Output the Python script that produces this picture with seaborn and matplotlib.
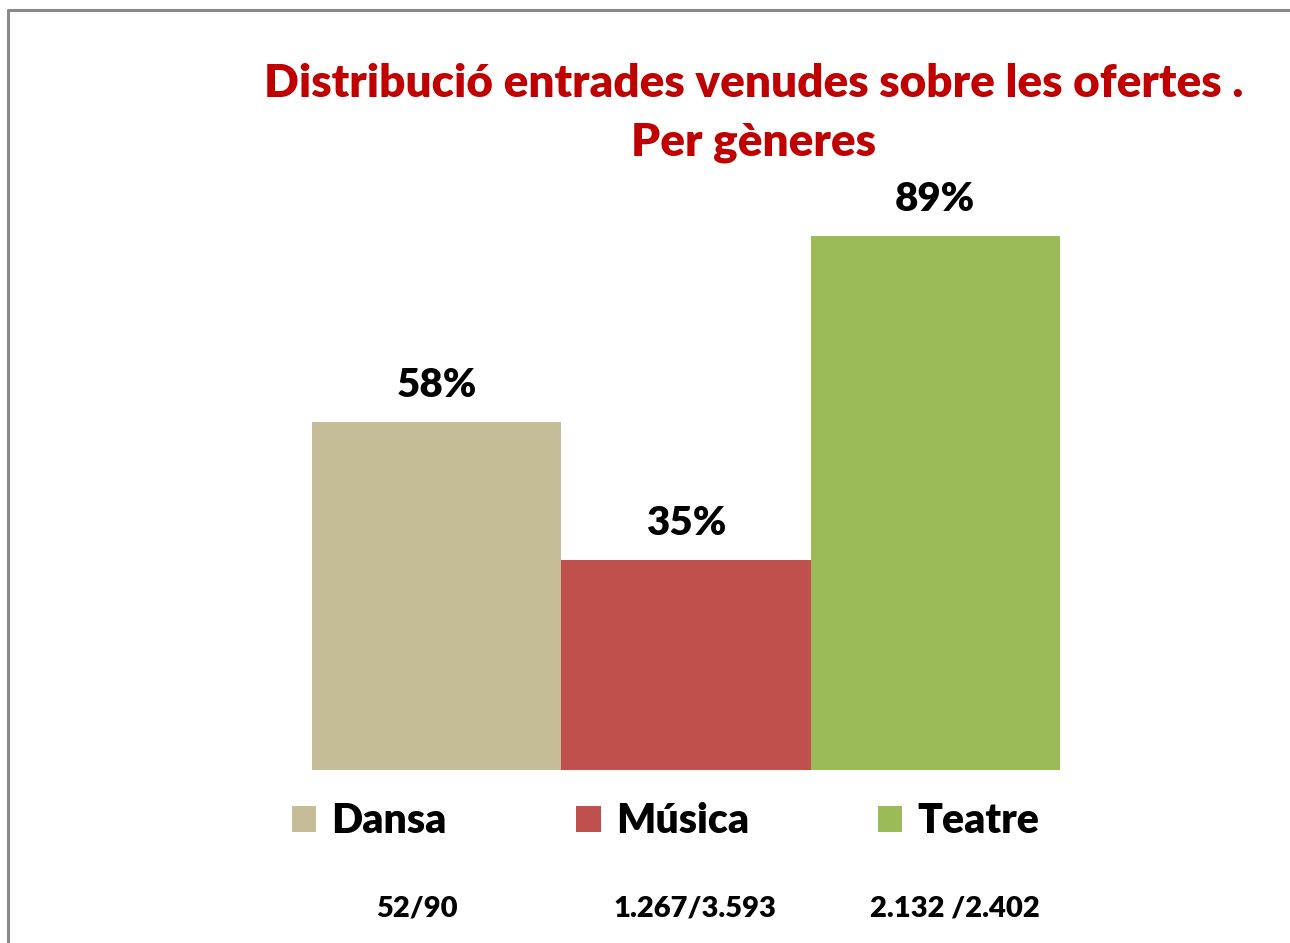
import matplotlib
matplotlib.use("Agg")
import matplotlib.pyplot as plt
from matplotlib.lines import Line2D
import seaborn as sns
import pandas as pd

# chart data
generes = ["Dansa", "Música", "Teatre"]
percentatges = [58, 35, 89]
entrades = ["52/90", "1.267/3.593", "2.132 /2.402"]
colors = ["#C4BD97", "#C0504D", "#9BBB59"]

sns.set_style("white")
plt.rcParams["font.family"] = ["Lato", "DejaVu Sans"]
plt.rcParams["text.color"] = "black"

df = pd.DataFrame({"genere": generes, "pct": percentatges})

fig = plt.figure(figsize=(12.9, 9.43), dpi=100)
ax = fig.add_axes([312 / 1290, 173 / 943, 748 / 1290, 600 / 943])

sns.barplot(data=df, x="genere", y="pct", hue="genere", palette=colors,
            width=1.0, dodge=False, legend=False, saturation=1,
            linewidth=0, ax=ax)

for cont in ax.containers:
    ax.bar_label(cont, fmt="%d%%", padding=13, fontsize=29, fontweight="heavy",
                 color="black")

ax.set_ylim(0, 100)
ax.set_xlim(-0.5, 2.5)
ax.set_xlabel("")
ax.set_ylabel("")
ax.set_xticks([])
ax.set_yticks([])
sns.despine(ax=ax, left=True, bottom=True)

# title
fig.text(0.584, 0.880, "Distribució entrades venudes sobre les ofertes .\nPer gèneres",
         ha="center", va="center", fontsize=33, fontweight="heavy",
         color="#C00000", linespacing=1.5)

# legend
handles = [plt.Rectangle((0, 0), 1, 1, color=c, lw=0) for c in colors]
fig.legend(handles, generes, ncol=3, loc="center", bbox_to_anchor=(0.516, 0.129),
           frameon=False, prop={"size": 29.5, "weight": "heavy"},
           handlelength=0.6, handleheight=0.6, handletextpad=0.37,
           columnspacing=3.15)

# sold / offered tickets
xs = [417 / 1290, 695 / 1290, 955 / 1290]
for x, t in zip(xs, entrades):
    fig.text(x, 0.037, t, ha="center", va="center", fontsize=21, fontweight="heavy",
             color="black")

# chart frame (left and top edges visible)
fig.add_artist(Line2D([8 / 1290, 8 / 1290], [0, 1 - 10 / 943], color="#898989", lw=2.2))
fig.add_artist(Line2D([8 / 1290, 1], [1 - 10 / 943, 1 - 10 / 943], color="#898989", lw=2.2))

fig.savefig("out.png", dpi=100)
